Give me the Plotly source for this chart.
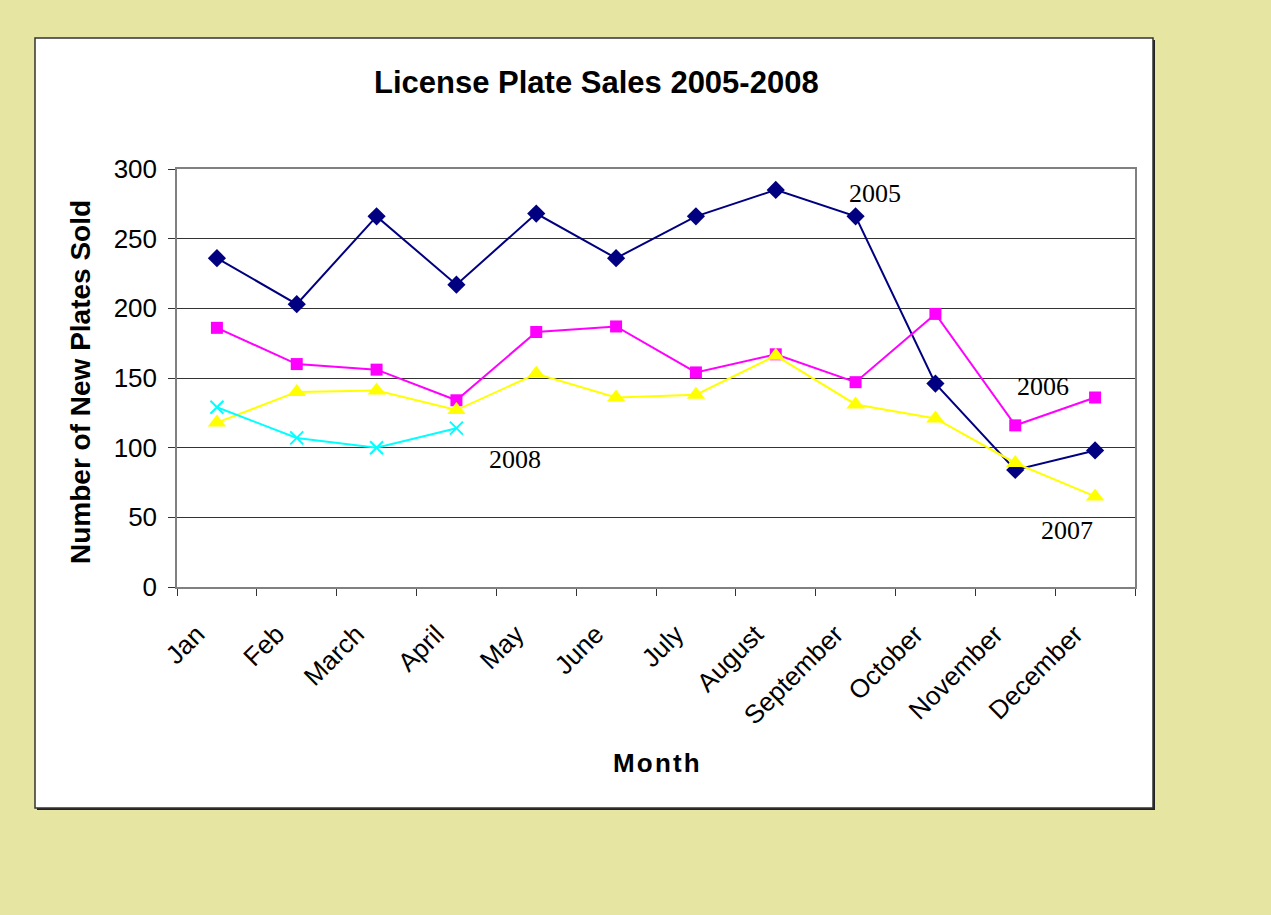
import plotly.graph_objects as go

months = ["Jan", "Feb", "March", "April", "May", "June", "July", "August",
          "September", "October", "November", "December"]
sales_2005 = [236, 203, 266, 217, 268, 236, 266, 285, 266, 146, 84, 98]
sales_2006 = [186, 160, 156, 134, 183, 187, 154, 167, 147, 196, 116, 136]
sales_2007 = [118, 140, 141, 127, 153, 136, 138, 166, 131, 121, 89, 65]
sales_2008 = [129, 107, 100, 114]
y_ticks = [0, 50, 100, 150, 200, 250, 300]

fig = go.Figure()
fig.add_trace(go.Scatter(x=months, y=sales_2005, name="2005", mode="lines+markers",
                         line=dict(color="#000080", width=2),
                         marker=dict(symbol="diamond", size=14, color="#000080")))
fig.add_trace(go.Scatter(x=months, y=sales_2006, name="2006", mode="lines+markers",
                         line=dict(color="#FF00FF", width=2),
                         marker=dict(symbol="square", size=12, color="#FF00FF")))
fig.add_trace(go.Scatter(x=months, y=sales_2007, name="2007", mode="lines+markers",
                         line=dict(color="#FFFF00", width=2),
                         marker=dict(symbol="triangle-up", size=16, color="#FFFF00")))
fig.add_trace(go.Scatter(x=months[:4], y=sales_2008, name="2008", mode="lines+markers",
                         line=dict(color="#00FFFF", width=2),
                         marker=dict(symbol="x-thin-open", size=13,
                                     line=dict(color="#00FFFF", width=2))))

L, R, T, B = 177, 136, 169, 328
W, H = 1271, 915
pw, ph = W - L - R, H - T - B

def px(x):
    return (x - L) / pw

def py(y):
    return (H - B - y) / ph

shapes = [
    dict(type="rect", xref="paper", yref="paper", layer="below",
         x0=px(37), x1=px(1155), y0=py(810), y1=py(40),
         fillcolor="#222222", line=dict(width=0)),
    dict(type="rect", xref="paper", yref="paper", layer="below",
         x0=px(35), x1=px(1153), y0=py(808), y1=py(38),
         fillcolor="white", line=dict(color="#333333", width=1.5)),
]

def ann(text, x, y, size, family="Arial, Liberation Sans", angle=0):
    return dict(text=text, x=px(x), y=py(y), xref="paper", yref="paper",
                xanchor="center", yanchor="middle", showarrow=False, textangle=angle,
                font=dict(family=family, size=size, color="black"))

annotations = [
    ann("<b>License Plate Sales 2005-2008</b>", 596, 82, 31),
    ann("<b>Number of New Plates Sold</b>", 80, 382, 28, angle=-90),
    ann("<b>M o n t h</b>".replace(" ", "&#8202;"), 656, 763, 26),
]
for label, xx, yy in [("2005", 875, 193), ("2006", 1043, 386),
                      ("2007", 1067, 530), ("2008", 515, 459)]:
    annotations.append(ann(label, xx, yy, 26, family="Liberation Serif, Times New Roman"))

fig.update_layout(
    width=W, height=H,
    margin=dict(l=L, r=R, t=T, b=B),
    paper_bgcolor="#E6E6A2",
    plot_bgcolor="#C0C0C0",
    showlegend=False,
    shapes=shapes,
    annotations=annotations,
    font=dict(family="Arial, Liberation Sans", color="black"),
)
fig.update_xaxes(type="category", tickson="boundaries", ticks="outside", ticklen=7,
                 tickcolor="#333333", tickangle=-45, showgrid=False,
                 showline=True, linecolor="#808080", linewidth=1.5, mirror=True,
                 tickfont=dict(size=26, family="Arial, Liberation Sans"),
                 ticklabelstandoff=20, ticklabelshift=-20,
                 range=[-0.5, 11.5])
fig.update_yaxes(range=[0, 300], tickvals=y_ticks, ticks="outside", ticklen=7,
                 tickcolor="#333333", showgrid=True, gridcolor="#333333", gridwidth=1,
                 showline=True, linecolor="#808080", linewidth=1.5, mirror=True,
                 zeroline=False, ticklabelstandoff=6,
                 tickfont=dict(size=26, family="Arial, Liberation Sans"))

fig.write_html("out.html", config={"displayModeBar": False},
               post_script="document.body.style.margin='0px';document.body.style.padding='0px';")
